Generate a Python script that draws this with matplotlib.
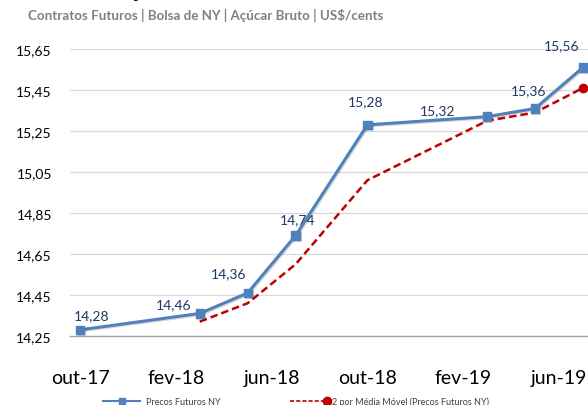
import matplotlib
matplotlib.use("Agg")
import matplotlib.pyplot as plt
import matplotlib.patheffects as pe
from matplotlib.lines import Line2D
from matplotlib.legend_handler import HandlerLine2D

plt.rcParams['font.family'] = ['Lato', 'DejaVu Sans']

# data
dates = ["2017-10", "2018-03", "2018-05", "2018-07", "2018-10", "2019-03", "2019-05", "2019-07"]
precos = [14.28, 14.36, 14.46, 14.74, 15.28, 15.32, 15.36, 15.56]
rotulos = ["14,28", "14,46", "14,36", "14,74", "15,28", "15,32", "15,36", "15,56"]
media_dates = dates[1:]
media_movel = [14.32, 14.41, 14.60, 15.01, 15.30, 15.34, 15.46]
yticks = [14.25, 14.45, 14.65, 14.85, 15.05, 15.25, 15.45, 15.65]
xtick_dates = ["2017-10", "2018-02", "2018-06", "2018-10", "2019-02", "2019-06"]
xtick_labels = ["out-17", "fev-18", "jun-18", "out-18", "fev-19", "jun-19"]

# label offsets in pixels (manual placement as in the source)
label_off = [(12, 15), (-26, 9), (-19, 20), (2, 16), (-2, 24), (-50, 6), (-6, 18), (-21, 22)]


def month_idx(s):
    y, m = s.split("-")
    return (int(y) - 2017) * 12 + int(m) - 10


class EndMarkerHandler(HandlerLine2D):
    # legend entry with the marker at the right end of the line
    def create_artists(self, *args, **kwargs):
        arts = super().create_artists(*args, **kwargs)
        for a in arts:
            a.set_markevery([-1])
        return arts


x = [month_idx(d) for d in dates]
xm = [month_idx(d) for d in media_dates]

blue = '#4f81bd'
red = '#c00000'

fig = plt.figure(figsize=(5.88, 4.06), dpi=100)
ax = fig.add_axes([70 / 588, 69 / 406, 518 / 588, 287 / 406])

ax.plot(xm, media_movel, color=red, lw=1.8, ls=(0, (3, 1.6)), marker='o',
        markersize=6, markevery=[-1], zorder=3)
ax.plot(x, precos, color=blue, lw=2.2, marker='s', markersize=6, zorder=4,
        path_effects=[pe.SimpleLineShadow(offset=(0.8, -0.8), alpha=0.15), pe.Normal()])

for xi, yi, txt, off in zip(x, precos, rotulos, label_off):
    ax.annotate(txt, (xi, yi), xytext=off, textcoords='offset pixels',
                ha='center', va='center', fontsize=10, color='#1f3864')

ax.set_ylim(14.25, 15.65)
ax.set_yticks(yticks)
ax.set_yticklabels([f"{v:.2f}".replace(".", ",") for v in yticks])
ax.set_xlim(-0.42, 21.21)
ax.set_xticks([month_idx(d) for d in xtick_dates])
ax.set_xticklabels(xtick_labels)

ax.grid(axis='y', color='#d9d9d9', lw=0.9)
ax.set_axisbelow(True)
for s in ['top', 'right', 'left']:
    ax.spines[s].set_visible(False)
ax.spines['bottom'].set_color('#a6a6a6')
ax.spines['bottom'].set_linewidth(1.0)
ax.tick_params(axis='y', length=0, pad=13, labelsize=10, labelcolor='#000000')
ax.tick_params(axis='x', length=0, pad=24, labelsize=14, labelcolor='#000000')

# title cut off at the top of the image, subtitle below
fig.text(83 / 588, 1 + 3 / 406, "Cotação", fontsize=16, fontweight='bold', va='baseline')
fig.text(28 / 588, 1 - 15 / 406, "Contratos Futuros | Bolsa de NY | Açúcar Bruto | US$/cents",
         fontsize=9.6, fontweight='bold', color='#808080', va='center')

h_blue = Line2D([], [], color=blue, lw=1.5, marker='s', markersize=5)
h_red = Line2D([], [], color=red, lw=1.2, ls=(0, (2.5, 1.2)), marker='o', markersize=6)
fig.legend([h_blue, h_red], ["Precos Futuros NY", "2 por Média Móvel (Precos Futuros NY)"],
           loc='lower center', bbox_to_anchor=(0.504, -0.012), ncol=2, frameon=False,
           fontsize=6.5, labelcolor='#404040', numpoints=1, handlelength=4.1,
           handletextpad=0.6, columnspacing=7.7, borderaxespad=0,
           handler_map={h_red: EndMarkerHandler()})

fig.savefig("out.png", dpi=100)
